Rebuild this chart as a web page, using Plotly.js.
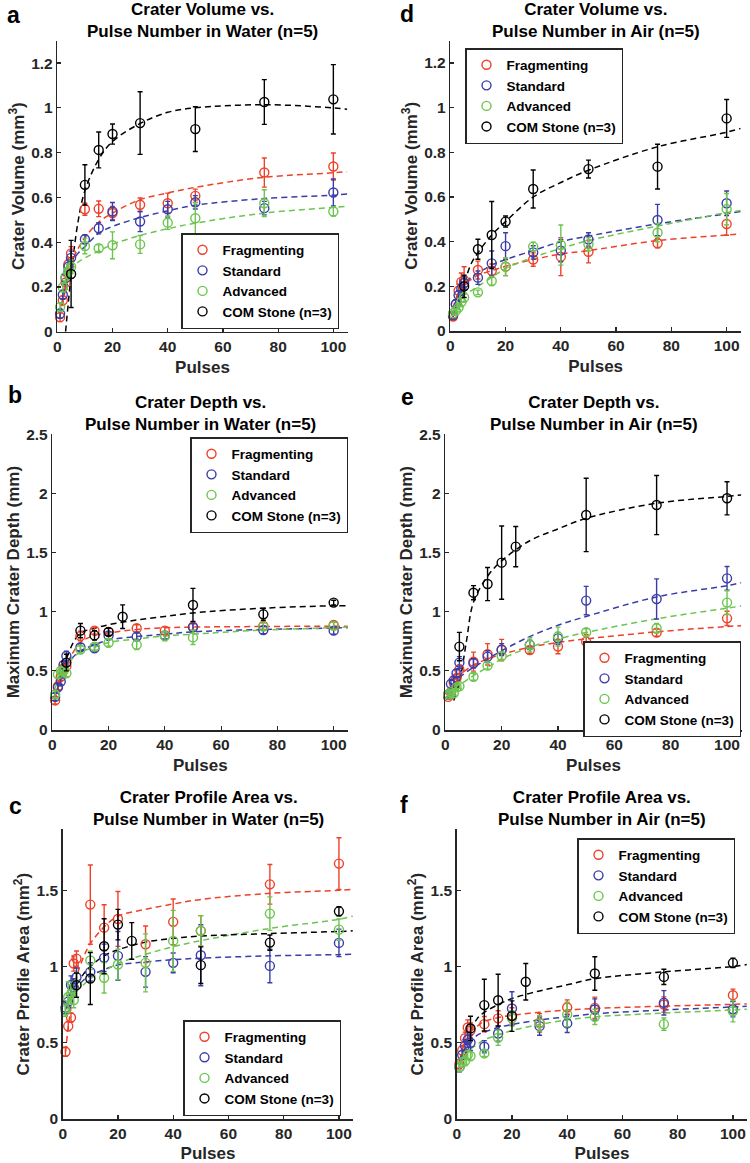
<!DOCTYPE html>
<html>
<head>
<meta charset="utf-8">
<script src="https://cdn.plot.ly/plotly-3.0.1.min.js"></script>
<style>html,body{margin:0;padding:0;background:#fff;}#chart{width:750px;height:1163px;}</style>
</head>
<body>
<div id="chart"></div>
<script>
// ---------------- DATA ----------------
const pulses = [1, 2, 3, 4, 5, 10, 15, 20, 30, 40, 50, 75, 100];
const comPulsesVol = [5, 10, 15, 20, 30, 50, 75, 100];
const comPulses = [5, 10, 15, 20, 25, 50, 75, 100];
const fitPulses = [1, 2, 3, 5, 7.5, 10, 15, 20, 30, 40, 50, 75, 100, 105];
const seriesNames = ['Fragmenting', 'Standard', 'Advanced', 'COM Stone (n=3)'];

// a: Crater volume, water
const aRed = [0.065, 0.14, 0.22, 0.30, 0.35, 0.547, 0.549, 0.53, 0.567, 0.574, 0.607, 0.711, 0.738];
const aRedErr = [0.02, 0.02, 0.03, 0.03, 0.03, 0.027, 0.035, 0.03, 0.03, 0.045, 0.03, 0.065, 0.06];
const aBlue = [0.08, 0.165, 0.24, 0.29, 0.33, 0.413, 0.462, 0.537, 0.492, 0.547, 0.578, 0.552, 0.622];
const aBlueErr = [0.02, 0.02, 0.03, 0.03, 0.03, 0.02, 0.025, 0.04, 0.045, 0.035, 0.03, 0.03, 0.06];
const aGreen = [0.11, 0.198, 0.246, 0.27, 0.29, 0.383, 0.373, 0.386, 0.39, 0.487, 0.507, 0.574, 0.537];
const aGreenErr = [0.02, 0.02, 0.03, 0.03, 0.03, 0.035, 0.015, 0.06, 0.04, 0.03, 0.07, 0.06, 0.02];
const aCom = [0.258, 0.656, 0.812, 0.883, 0.932, 0.905, 1.026, 1.038];
const aComErr = [0.15, 0.09, 0.08, 0.045, 0.14, 0.1, 0.1, 0.155];
const aFitRed = [0.07, 0.13, 0.19, 0.3, 0.37, 0.42, 0.49, 0.53, 0.59, 0.62, 0.645, 0.69, 0.71, 0.715];
const aFitBlue = [0.08, 0.15, 0.21, 0.3, 0.35, 0.38, 0.44, 0.47, 0.51, 0.54, 0.565, 0.595, 0.61, 0.615];
const aFitGreen = [0.1, 0.16, 0.21, 0.27, 0.31, 0.33, 0.36, 0.39, 0.43, 0.46, 0.485, 0.53, 0.555, 0.56];
const aFitCom = [null, null, 0.0, 0.25, 0.49, 0.63, 0.77, 0.85, 0.93, 0.98, 1.0, 1.014, 1.0, 0.994];

// d: Crater volume, air
const dRed = [0.065, 0.12, 0.18, 0.22, 0.228, 0.273, 0.27, 0.288, 0.32, 0.333, 0.355, 0.393, 0.479];
const dRedErr = [0.01, 0.02, 0.03, 0.04, 0.06, 0.04, 0.03, 0.04, 0.03, 0.085, 0.05, 0.02, 0.05];
const dBlue = [0.07, 0.12, 0.16, 0.19, 0.215, 0.239, 0.303, 0.38, 0.352, 0.36, 0.41, 0.497, 0.572];
const dBlueErr = [0.01, 0.02, 0.02, 0.03, 0.03, 0.03, 0.055, 0.06, 0.03, 0.05, 0.03, 0.07, 0.055];
const dGreen = [0.08, 0.09, 0.105, 0.13, 0.15, 0.173, 0.224, 0.288, 0.378, 0.385, 0.388, 0.44, 0.546];
const dGreenErr = [0.01, 0.01, 0.01, 0.02, 0.02, 0.01, 0.02, 0.04, 0.02, 0.09, 0.03, 0.04, 0.07];
const dCom = [0.2, 0.366, 0.43, 0.49, 0.636, 0.725, 0.736, 0.952];
const dComErr = [0.05, 0.045, 0.15, 0.025, 0.085, 0.04, 0.1, 0.085];
const dFitRed = [0.1, 0.14, 0.17, 0.21, 0.23, 0.25, 0.27, 0.29, 0.32, 0.345, 0.36, 0.405, 0.43, 0.435];
const dFitBlue = [0.1, 0.14, 0.17, 0.21, 0.24, 0.26, 0.295, 0.32, 0.36, 0.4, 0.425, 0.48, 0.525, 0.535];
const dFitGreen = [0.07, 0.1, 0.12, 0.16, 0.18, 0.2, 0.24, 0.28, 0.33, 0.37, 0.405, 0.47, 0.53, 0.54];
const dFitCom = [null, null, 0.13, 0.21, 0.3, 0.35, 0.43, 0.49, 0.6, 0.665, 0.72, 0.825, 0.89, 0.907];

// b: Crater depth, water
const bRed = [0.25, 0.37, 0.45, 0.52, 0.54, 0.795, 0.84, 0.83, 0.86, 0.84, 0.874, 0.88, 0.888];
const bRedErr = [0.03, 0.03, 0.03, 0.03, 0.04, 0.04, 0.03, 0.03, 0.03, 0.03, 0.03, 0.03, 0.03];
const bBlue = [0.28, 0.36, 0.41, 0.55, 0.626, 0.70, 0.69, 0.80, 0.79, 0.80, 0.868, 0.845, 0.84];
const bBlueErr = [0.03, 0.03, 0.03, 0.03, 0.04, 0.03, 0.03, 0.03, 0.03, 0.03, 0.03, 0.03, 0.03];
const bGreen = [0.3, 0.47, 0.5, 0.5, 0.48, 0.68, 0.705, 0.738, 0.72, 0.795, 0.783, 0.874, 0.88];
const bGreenErr = [0.03, 0.03, 0.03, 0.03, 0.03, 0.03, 0.03, 0.03, 0.04, 0.04, 0.06, 0.03, 0.03];
const bCom = [0.57, 0.84, 0.80, 0.83, 0.958, 1.057, 0.978, 1.077];
const bComErr = [0.07, 0.06, 0.04, 0.03, 0.1, 0.14, 0.05, 0.02];
const bFitRed = [0.25, 0.36, 0.44, 0.55, 0.66, 0.74, 0.8, 0.82, 0.85, 0.865, 0.87, 0.875, 0.878, 0.878];
const bFitBlue = [0.3, 0.38, 0.45, 0.55, 0.62, 0.67, 0.72, 0.76, 0.79, 0.81, 0.83, 0.85, 0.862, 0.865];
const bFitGreen = [0.35, 0.42, 0.47, 0.55, 0.61, 0.66, 0.7, 0.74, 0.77, 0.795, 0.81, 0.845, 0.865, 0.87];
const bFitCom = [null, null, 0.45, 0.6, 0.74, 0.82, 0.86, 0.89, 0.93, 0.96, 0.99, 1.03, 1.05, 1.05];

// e: Crater depth, air
const eRed = [0.28, 0.32, 0.40, 0.44, 0.51, 0.578, 0.64, 0.676, 0.676, 0.705, 0.747, 0.823, 0.944];
const eRedErr = [0.02, 0.03, 0.03, 0.03, 0.04, 0.08, 0.09, 0.09, 0.03, 0.06, 0.06, 0.03, 0.06];
const eBlue = [0.30, 0.39, 0.42, 0.48, 0.57, 0.564, 0.62, 0.68, 0.72, 0.775, 1.094, 1.108, 1.282];
const eBlueErr = [0.02, 0.03, 0.03, 0.03, 0.05, 0.04, 0.05, 0.05, 0.04, 0.05, 0.12, 0.17, 0.1];
const eGreen = [0.3, 0.32, 0.31, 0.36, 0.37, 0.45, 0.544, 0.626, 0.72, 0.79, 0.826, 0.86, 1.077];
const eGreenErr = [0.02, 0.02, 0.02, 0.02, 0.02, 0.03, 0.03, 0.03, 0.06, 0.08, 0.03, 0.04, 0.1];
const eCom = [0.705, 1.161, 1.234, 1.415, 1.55, 1.818, 1.902, 1.959];
const eComErr = [0.12, 0.06, 0.14, 0.31, 0.17, 0.31, 0.25, 0.14];
const eFitRed = [0.28, 0.34, 0.38, 0.46, 0.51, 0.55, 0.6, 0.64, 0.7, 0.74, 0.77, 0.83, 0.875, 0.882];
const eFitBlue = [0.3, 0.34, 0.38, 0.44, 0.49, 0.53, 0.6, 0.67, 0.79, 0.885, 0.96, 1.125, 1.22, 1.245];
const eFitGreen = [0.29, 0.31, 0.33, 0.38, 0.42, 0.46, 0.53, 0.6, 0.7, 0.77, 0.825, 0.94, 1.03, 1.048];
const eFitCom = [null, null, 0.25, 0.4, 0.75, 1.08, 1.3, 1.43, 1.6, 1.7, 1.79, 1.917, 1.975, 1.987];

// c: Crater profile area, water
const cRed = [0.441, 0.609, 0.666, 1.02, 1.052, 1.406, 1.255, 1.312, 1.146, 1.293, 1.234, 1.539, 1.675];
const cRedErr = [0.03, 0.03, 0.03, 0.05, 0.05, 0.26, 0.15, 0.18, 0.12, 0.15, 0.1, 0.13, 0.17];
const cBlue = [0.73, 0.77, 0.879, 0.86, 0.93, 0.965, 1.057, 1.07, 0.965, 1.024, 1.074, 1.004, 1.155];
const cBlueErr = [0.04, 0.04, 0.06, 0.06, 0.06, 0.06, 0.09, 0.16, 0.1, 0.065, 0.2, 0.11, 0.09];
const cGreen = [0.714, 0.80, 0.82, 0.78, 0.88, 1.04, 0.926, 1.013, 1.024, 1.168, 1.234, 1.347, 1.242];
const cGreenErr = [0.04, 0.1, 0.06, 0.05, 0.08, 0.06, 0.1, 0.1, 0.19, 0.2, 0.1, 0.11, 0.07];
const cCom = [0.878, 0.921, 1.133, 1.275, 1.168, 1.009, 1.157, 1.362];
const cComErr = [0.08, 0.17, 0.18, 0.1, 0.12, 0.12, 0.05, 0.03];
const cFitRed = [0.44, 0.6, 0.73, 0.93, 1.06, 1.15, 1.26, 1.33, 1.375, 1.41, 1.44, 1.48, 1.5, 1.507];
const cFitBlue = [0.72, 0.76, 0.8, 0.86, 0.91, 0.94, 0.98, 1.01, 1.03, 1.045, 1.055, 1.07, 1.078, 1.08];
const cFitGreen = [0.72, 0.75, 0.78, 0.84, 0.88, 0.92, 0.97, 1.02, 1.08, 1.13, 1.17, 1.25, 1.31, 1.33];
const cFitCom = [null, null, null, 0.88, 0.95, 1.0, 1.07, 1.11, 1.16, 1.185, 1.2, 1.216, 1.23, 1.234];

// f: Crater profile area, air
const fRed = [0.36, 0.45, 0.53, 0.6, 0.58, 0.622, 0.66, 0.68, 0.631, 0.731, 0.729, 0.751, 0.812];
const fRedErr = [0.03, 0.03, 0.04, 0.05, 0.05, 0.05, 0.05, 0.05, 0.06, 0.05, 0.07, 0.05, 0.04];
const fBlue = [0.34, 0.42, 0.48, 0.52, 0.50, 0.474, 0.561, 0.725, 0.609, 0.627, 0.718, 0.762, 0.72];
const fBlueErr = [0.03, 0.03, 0.04, 0.05, 0.05, 0.04, 0.05, 0.11, 0.06, 0.06, 0.07, 0.08, 0.05];
const fGreen = [0.34, 0.37, 0.38, 0.42, 0.413, 0.43, 0.533, 0.66, 0.627, 0.686, 0.67, 0.622, 0.707];
const fGreenErr = [0.03, 0.03, 0.03, 0.03, 0.03, 0.02, 0.05, 0.05, 0.05, 0.08, 0.05, 0.04, 0.07];
const fCom = [0.594, 0.747, 0.779, 0.675, 0.9, 0.954, 0.932, 1.024];
const fComErr = [0.08, 0.17, 0.17, 0.1, 0.12, 0.11, 0.05, 0.03];
const fFitRed = [0.38, 0.45, 0.5, 0.57, 0.61, 0.64, 0.665, 0.68, 0.7, 0.715, 0.725, 0.74, 0.752, 0.755];
const fFitBlue = [0.38, 0.43, 0.46, 0.51, 0.55, 0.57, 0.6, 0.62, 0.65, 0.67, 0.69, 0.715, 0.735, 0.74];
const fFitGreen = [0.35, 0.39, 0.42, 0.46, 0.49, 0.52, 0.55, 0.58, 0.62, 0.65, 0.67, 0.695, 0.715, 0.72];
const fFitCom = [null, null, null, 0.58, 0.66, 0.7, 0.75, 0.79, 0.84, 0.88, 0.92, 0.965, 1.0, 1.013];

// ---------------- STYLE / LAYOUT ----------------
const W = 750, H = 1163;
const FONT = 'Liberation Sans, Arial, sans-serif';
const INK = '#262626';
const colors = ['#EE4129', '#3A3DA8', '#6CC54E', '#000000'];

const panels = [
  {letter: 'a', n: 1, title: 'Crater Volume vs.<br>Pulse Number in Water (n=5)', ytitle: 'Crater Volume (mm<sup>3</sup>)',
   box: [57.3, 347.7, 40.7, 331.7], yrange: [0, 1.3], yticks: [0, 0.2, 0.4, 0.6, 0.8, 1, 1.2],
   data: [[aRed, aRedErr], [aBlue, aBlueErr], [aGreen, aGreenErr]], com: [comPulsesVol, aCom, aComErr],
   fits: [aFitRed, aFitBlue, aFitGreen, aFitCom], leg: [181, 233], lab: [13, 15]},
  {letter: 'b', n: 2, title: 'Crater Depth vs.<br>Pulse Number in Water (n=5)', ytitle: 'Maximum Crater Depth (mm)',
   box: [52.3, 348.3, 434.3, 730], yrange: [0, 2.5], yticks: [0, 0.5, 1, 1.5, 2, 2.5],
   data: [[bRed, bRedErr], [bBlue, bBlueErr], [bGreen, bGreenErr]], com: [comPulses, bCom, bComErr],
   fits: [bFitRed, bFitBlue, bFitGreen, bFitCom], leg: [190, 437], lab: [15, 395]},
  {letter: 'c', n: 3, title: 'Crater Profile Area vs.<br>Pulse Number in Water (n=5)', ytitle: 'Crater Profile Area (mm<sup>2</sup>)',
   box: [62.7, 353.3, 829.3, 1119], yrange: [0, 1.9], yticks: [0, 0.5, 1, 1.5],
   data: [[cRed, cRedErr], [cBlue, cBlueErr], [cGreen, cGreenErr]], com: [comPulses, cCom, cComErr],
   fits: [cFitRed, cFitBlue, cFitGreen, cFitCom], leg: [183, 1020], lab: [15, 806]},
  {letter: 'd', n: 4, title: 'Crater Volume vs.<br>Pulse Number in Air (n=5)', ytitle: 'Crater Volume (mm<sup>3</sup>)',
   box: [450.3, 741, 40.7, 331], yrange: [0, 1.3], yticks: [0, 0.2, 0.4, 0.6, 0.8, 1, 1.2],
   data: [[dRed, dRedErr], [dBlue, dBlueErr], [dGreen, dGreenErr]], com: [comPulsesVol, dCom, dComErr],
   fits: [dFitRed, dFitBlue, dFitGreen, dFitCom], leg: [465, 48], lab: [407, 14]},
  {letter: 'e', n: 5, title: 'Crater Depth vs.<br>Pulse Number in Air (n=5)', ytitle: 'Maximum Crater Depth (mm)',
   box: [445.3, 741.7, 434.3, 730], yrange: [0, 2.5], yticks: [0, 0.5, 1, 1.5, 2, 2.5],
   data: [[eRed, eRedErr], [eBlue, eBlueErr], [eGreen, eGreenErr]], com: [comPulses, eCom, eComErr],
   fits: [eFitRed, eFitBlue, eFitGreen, eFitCom], leg: [583, 641], lab: [407, 397]},
  {letter: 'f', n: 6, title: 'Crater Profile Area vs.<br>Pulse Number in Air (n=5)', ytitle: 'Crater Profile Area (mm<sup>2</sup>)',
   box: [456.7, 747.3, 829.3, 1119], yrange: [0, 1.9], yticks: [0, 0.5, 1, 1.5],
   data: [[fRed, fRedErr], [fBlue, fBlueErr], [fGreen, fGreenErr]], com: [comPulses, fCom, fComErr],
   fits: [fFitRed, fFitBlue, fFitGreen, fFitCom], leg: [577, 838], lab: [404, 805]}
];

const traces = [];
const layout = {
  width: W, height: H, margin: {l: 0, r: 0, t: 0, b: 0},
  paper_bgcolor: '#fff', plot_bgcolor: 'rgba(0,0,0,0)',
  font: {family: FONT, color: INK},
  showlegend: true, annotations: []
};

function axisBase() {
  return {
    showline: true, linecolor: INK, linewidth: 1.5, mirror: false,
    ticks: 'inside', ticklen: 4, tickwidth: 1.2, tickcolor: INK,
    showgrid: false, zeroline: false, fixedrange: true,
    tickfont: {family: FONT, size: 15.5, weight: 'bold', color: INK}
  };
}

panels.forEach(p => {
  const sfx = p.n === 1 ? '' : String(p.n);
  const xa = 'x' + sfx, ya = 'y' + sfx;
  const legName = p.n === 1 ? 'legend' : 'legend' + p.n;
  const [l, r, t, b] = p.box;

  // fitted dashed curves
  p.fits.forEach((fy, i) => {
    traces.push({
      x: fitPulses, y: fy, xaxis: xa, yaxis: ya, type: 'scatter', mode: 'lines',
      line: {color: colors[i], width: 1.5, dash: '6px,4px', shape: 'spline', smoothing: 1},
      connectgaps: false, showlegend: false, hoverinfo: 'skip', legend: legName
    });
  });
  // measured points with error bars
  const sets = p.data.map(d => [pulses, d[0], d[1]]).concat([p.com]);
  sets.forEach((s, i) => {
    traces.push({
      x: s[0], y: s[1], xaxis: xa, yaxis: ya, type: 'scatter', mode: 'markers',
      name: seriesNames[i], legend: legName,
      marker: {symbol: 'circle-open', size: 9, color: colors[i], line: {width: 1.4, color: colors[i]}},
      error_y: {type: 'data', array: s[2], visible: true, color: colors[i], thickness: 1.4, width: 2.5},
      cliponaxis: false
    });
  });

  layout['xaxis' + sfx] = Object.assign(axisBase(), {
    domain: [l / W, r / W], range: [0, 105.2], anchor: ya,
    tickvals: [0, 20, 40, 60, 80, 100],
    title: {text: 'Pulses', font: {family: FONT, size: 17, weight: 'bold', color: INK}, standoff: 7}
  });
  layout['yaxis' + sfx] = Object.assign(axisBase(), {
    domain: [1 - b / H, 1 - t / H], range: p.yrange, anchor: xa,
    tickvals: p.yticks,
    title: {text: p.ytitle, font: {family: FONT, size: 17, weight: 'bold', color: INK}, standoff: 2}
  });
  layout[legName] = {
    x: p.leg[0] / W, y: 1 - p.leg[1] / H, xanchor: 'left', yanchor: 'top',
    bgcolor: '#fff', bordercolor: INK, borderwidth: 1.5,
    font: {family: FONT, size: 13.5, weight: 'bold', color: '#000'},
    tracegroupgap: 0, itemsizing: 'trace', traceorder: 'normal', itemwidth: 30
  };
  // panel title
  layout.annotations.push({
    text: p.title, xref: 'paper', yref: 'paper', x: ((l + r) / 2) / W, y: 1 - (t - 20.5) / H,
    xanchor: 'center', yanchor: 'middle', showarrow: false, align: 'center',
    font: {family: FONT, size: 17, weight: 'bold', color: '#000'}
  });
  // panel letter
  layout.annotations.push({
    text: p.letter, xref: 'paper', yref: 'paper', x: p.lab[0] / W, y: 1 - p.lab[1] / H,
    xanchor: 'center', yanchor: 'middle', showarrow: false,
    font: {family: FONT, size: 23, weight: 'bold', color: '#000'}
  });
});

Plotly.newPlot('chart', traces, layout, {staticPlot: true, displayModeBar: false});
</script>
</body>
</html>
